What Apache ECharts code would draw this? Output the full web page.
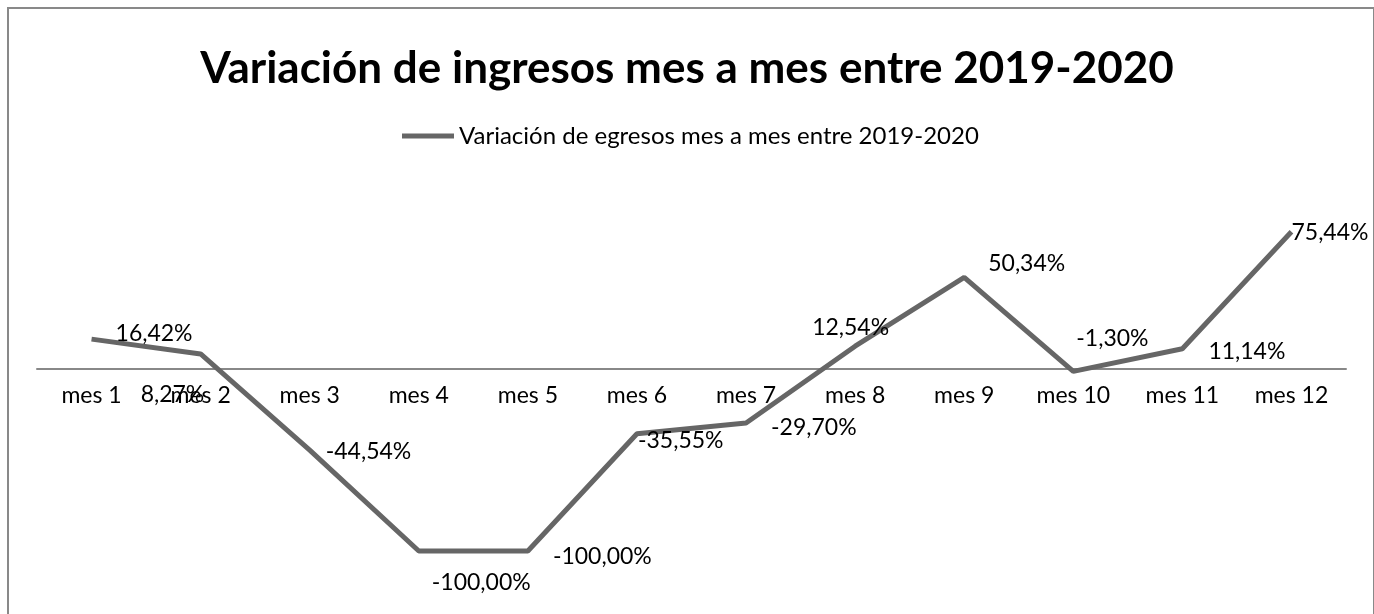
<!DOCTYPE html>
<html>
<head>
<meta charset="utf-8">
<script src="https://cdn.jsdelivr.net/npm/echarts@6/dist/echarts.min.js"></script>
<style>
  html, body { margin: 0; padding: 0; background: #fff; }
  #frame { position: absolute; left: 7px; top: 7px; width: 1364px; height: 640px; border: 2px solid #898989; }
  #main { position: absolute; left: 0; top: 0; width: 1374px; height: 614px; }
</style>
</head>
<body>
<div id="frame"></div>
<div id="main"></div>
<script>
var categories = ['mes 1', 'mes 2', 'mes 3', 'mes 4', 'mes 5', 'mes 6', 'mes 7', 'mes 8', 'mes 9', 'mes 10', 'mes 11', 'mes 12'];
var variacion = [16.42, 8.27, -44.54, -100.00, -100.00, -35.55, -29.70, 12.54, 50.34, -1.30, 11.14, 75.44];
var seriesName = 'Variación de egresos mes a mes entre 2019-2020';
var chartTitle = 'Variación de ingresos mes a mes entre 2019-2020';

// label nudges so they sit like in the original sheet
var labelOffsets = [[19, -6], [-65, 41], [11, 2], [8, 32], [20, 6], [-4, 7], [20, 5], [-48, -19], [19, -14], [-2, -33], [21, 3], [-5, 1]];

var chart = echarts.init(document.getElementById('main'));
var font = 'Lato';

var option = {
  animation: false,
  title: {
    text: chartTitle,
    left: 'center',
    top: 42,
    textStyle: { fontFamily: font, fontWeight: 'bold', fontSize: 44, color: '#000' }
  },
  legend: {
    data: [seriesName],
    left: 397,
    top: 119,
    itemWidth: 52,
    itemHeight: 5,
    itemGap: 4,
    icon: 'rect',
    textStyle: { fontFamily: font, fontSize: 24, color: '#000' }
  },
  grid: { left: 37, right: 28, top: 223.4, height: 364, outerBoundsMode: 'none' },
  xAxis: {
    type: 'category',
    data: categories,
    boundaryGap: true,
    axisLine: { onZero: true, lineStyle: { color: '#888', width: 2 } },
    axisTick: { show: false },
    // labels stay at the grid bottom, so pull them up under the zero line
    axisLabel: { fontFamily: font, fontSize: 23, color: '#000', margin: -203, interval: 0 }
  },
  yAxis: {
    type: 'value',
    min: -120,
    max: 80,
    axisLine: { show: false },
    axisTick: { show: false },
    axisLabel: { show: false },
    splitLine: { show: false }
  },
  series: [{
    name: seriesName,
    type: 'line',
    data: variacion.map(function (v, i) {
      return { value: v, label: { offset: labelOffsets[i] } };
    }),
    symbol: 'circle',
    symbolSize: 0,
    showSymbol: true,
    color: '#666666',
    lineStyle: { color: '#666666', width: 5 },
    label: {
      show: true,
      position: 'right',
      distance: 5,
      fontFamily: font,
      fontSize: 23,
      color: '#000',
      formatter: function (p) { return p.value.toFixed(2).replace('.', ',') + '%'; }
    },
    z: 3
  }]
};

chart.setOption(option);
</script>
</body>
</html>
